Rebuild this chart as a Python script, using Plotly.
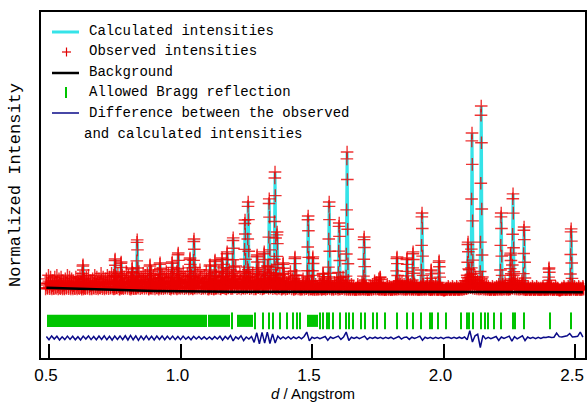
import numpy as np
import plotly.graph_objects as go

# ---------------- data ----------------
# resolved reflections: position d (Angstrom) and normalized peak height
peak_d = [0.629, 0.751, 0.774, 0.816, 0.835, 0.884, 0.922, 0.968, 0.991, 1.036,
          1.051, 1.112, 1.131, 1.158, 1.177, 1.200, 1.245, 1.257, 1.291, 1.318,
          1.337, 1.359, 1.367, 1.390, 1.435, 1.485, 1.503, 1.542, 1.565, 1.603,
          1.633, 1.698, 1.759, 1.823, 1.861, 1.884, 1.918, 1.953, 1.983, 2.093,
          2.108, 2.143, 2.219, 2.255, 2.264, 2.306, 2.401, 2.485]
peak_h = [0.136, 0.168, 0.152, 0.120, 0.272, 0.136, 0.147, 0.152, 0.201, 0.174,
          0.277, 0.136, 0.163, 0.174, 0.207, 0.283, 0.380, 0.478, 0.190, 0.207,
          0.495, 0.641, 0.315, 0.147, 0.179, 0.402, 0.180, 0.090, 0.478, 0.364,
          0.750, 0.288, 0.070, 0.179, 0.174, 0.207, 0.418, 0.109, 0.158, 0.260,
          0.853, 1.000, 0.418, 0.200, 0.522, 0.342, 0.120, 0.332]

# weak, unresolved reflections ("grass") on a regular d grid
grass_start = 0.49
grass_step = 0.008
grass_h = [
    0.06, 0.08, 0.07, 0.05, 0.07, 0.08, 0.06, 0.07, 0.05, 0.06, 0.08, 0.07, 0.06, 0.05, 0.07, 0.06,
    0.07, 0.09, 0.06, 0.07, 0.08, 0.05, 0.06, 0.08, 0.07, 0.06, 0.09, 0.07, 0.06, 0.08, 0.07, 0.09,
    0.08, 0.07, 0.09, 0.06, 0.08, 0.07, 0.10, 0.08, 0.06, 0.09, 0.07, 0.08, 0.10, 0.07, 0.09, 0.08,
    0.09, 0.07, 0.10, 0.08, 0.06, 0.09, 0.11, 0.08, 0.07, 0.10, 0.09, 0.07, 0.11, 0.08, 0.10, 0.09,
    0.08, 0.10, 0.07, 0.09, 0.12, 0.08, 0.06, 0.10, 0.09, 0.11, 0.07, 0.08, 0.10, 0.06, 0.09, 0.07,
    0.05, 0.08, 0.10, 0.07, 0.12, 0.09, 0.06, 0.11, 0.08, 0.10, 0.13, 0.07, 0.09, 0.06, 0.10, 0.08,
    0.11, 0.07, 0.09, 0.05, 0.10, 0.12, 0.08, 0.06, 0.10, 0.13, 0.08, 0.11, 0.07, 0.09, 0.06, 0.08,
    0.05, 0.09, 0.04, 0.07, 0.10, 0.06, 0.03, 0.08, 0.05, 0.02, 0.06, 0.04, 0.07, 0.03, 0.05, 0.02,
    0.03, 0.02, 0.05, 0.04, 0.06, 0.03, 0.07, 0.05, 0.02, 0.04, 0.06, 0.03, 0.05, 0.07, 0.04, 0.03,
    0.02, 0.03, 0.02, 0.01, 0.03, 0.02, 0.04, 0.03, 0.02, 0.01, 0.02, 0.03, 0.05, 0.04, 0.06, 0.03,
    0.02, 0.01, 0.03, 0.02, 0.01, 0.02, 0.04, 0.03, 0.05, 0.04, 0.03, 0.02, 0.04, 0.03, 0.02, 0.03,
    0.02, 0.01, 0.02, 0.03, 0.02, 0.04, 0.02, 0.01, 0.02, 0.03, 0.01, 0.02, 0.01, 0.00, 0.01, 0.02,
    0.01, 0.02, 0.01, 0.02, 0.01, 0.02, 0.03, 0.05, 0.08, 0.11, 0.12, 0.09, 0.07, 0.05, 0.04, 0.06,
    0.04, 0.03, 0.02, 0.01, 0.02, 0.01, 0.02, 0.03, 0.02, 0.03, 0.04, 0.02, 0.03, 0.06, 0.08, 0.05,
    0.04, 0.03, 0.05, 0.02, 0.01, 0.02, 0.01, 0.02, 0.01, 0.02, 0.01, 0.01, 0.02, 0.01, 0.02, 0.03,
    0.02, 0.01, 0.02, 0.01, 0.00, 0.01, 0.02, 0.01, 0.02, 0.01, 0.03, 0.02, 0.01, 0.02, 0.01, 0.02,
]

# observed points sampled across each reflection: d offsets and fraction of height
stack_dx = [-0.0045, -0.0034, -0.0023, -0.0012, -0.0004, 0.0004, 0.0014, 0.0025, 0.0036, 0.0048]
stack_f = [0.03, 0.10, 0.26, 0.58, 0.95, 1.00, 0.80, 0.44, 0.19, 0.07]
grass_dx = [-0.003, -0.0015, 0.0, 0.0015, 0.003]
grass_f = [0.10, 0.45, 1.00, 0.60, 0.20]

# refined background
bg_d = [0.49, 0.60, 0.75, 0.90, 1.20, 1.60, 2.00, 2.53]
bg_i = [0.012, 0.008, 0.000, -0.006, -0.010, -0.011, -0.012, -0.012]

# allowed Bragg reflections: dense bands (start, end) and single positions
bragg_bands = [(0.4924, 1.1008), (1.1046, 1.1882), (1.2148, 1.2757), (1.4810, 1.5228)]
bragg_d = [1.1958, 1.2833, 1.3137, 1.3365, 1.3517, 1.3783, 1.4049, 1.4278, 1.4430,
           1.4544, 1.5304, 1.5418, 1.5570, 1.5646, 1.5798, 1.6065, 1.6293, 1.6407,
           1.6559, 1.6863, 1.7015, 1.7319, 1.7471, 1.7776, 1.8232, 1.8612, 1.8840,
           1.9144, 1.9487, 1.9563, 1.9791, 2.0095, 2.0665, 2.0894, 2.0970, 2.1122,
           2.1426, 2.1578, 2.1692, 2.1920, 2.2186, 2.2643, 2.2719, 2.3061, 2.4049,
           2.4848]

# difference curve (observed - calculated) on a regular d grid
diff_start = 0.49
diff_step = 0.01
diff_r = [
    0.008, -0.010, 0.011, -0.006, 0.009, -0.011, 0.006, -0.009, 0.010, -0.008,
    0.009, -0.010, 0.007, -0.011, 0.010, -0.006, 0.011, -0.009, 0.008, -0.010,
    0.010, -0.008, 0.012, -0.010, 0.009, -0.012, 0.010, -0.008, 0.011, -0.009,
    0.012, -0.011, 0.014, -0.010, 0.011, -0.013, 0.010, -0.009, 0.012, -0.010,
    0.009, -0.011, 0.010, -0.008, 0.011, -0.010, 0.009, -0.008, 0.010, -0.009,
    0.008, -0.009, 0.010, -0.007, 0.006, -0.010, 0.009, -0.006, 0.008, -0.007,
    0.006, -0.007, 0.005, -0.008, 0.007, -0.006, 0.009, -0.012, 0.008, -0.006,
    0.014, -0.016, 0.006, -0.005, 0.012, -0.014, 0.005, -0.006, 0.008, -0.024,
    0.028, -0.032, 0.030, -0.028, 0.032, -0.030, 0.022, -0.028, 0.010, -0.006,
    0.006, -0.005, 0.007, -0.006, 0.005, -0.004, 0.006, -0.005, 0.008, 0.032,
    -0.016, 0.004, -0.003, 0.003, -0.004, 0.003, 0.008, -0.012, 0.005, -0.003,
    0.004, 0.010, -0.008, 0.005, 0.032, -0.014, 0.004, -0.003, 0.004, -0.004,
    0.003, 0.010, -0.008, 0.003, -0.003, 0.004, -0.003, 0.003, -0.004, 0.003,
    -0.003, 0.004, -0.005, 0.003, 0.008, -0.006, 0.003, 0.005, -0.008, 0.004,
    -0.003, 0.003, 0.010, -0.012, 0.004, -0.003, 0.003, -0.004, 0.003, -0.003,
    0.003, -0.004, 0.003, 0.004, -0.003, 0.003, -0.003, 0.004, -0.003, 0.005,
    -0.010, 0.040, -0.022, 0.012, 0.020, -0.052, 0.014, -0.005, 0.003, -0.004,
    0.004, 0.008, -0.014, 0.005, -0.003, 0.004, 0.010, -0.017, 0.007, -0.005,
    0.004, 0.012, -0.014, 0.005, -0.003, 0.003, -0.004, 0.003, -0.003, 0.004,
    0.003, 0.007, 0.003, 0.004, 0.026, 0.007, 0.005, 0.007, 0.012, 0.024,
    0.005, 0.007, 0.009, 0.032, 0.005,
]

x_ticks = [0.5, 1.0, 1.5, 2.0, 2.5]
x_ticktext = ["0.5", "1.0", "1.5", "2.0", "2.5"]

legend_labels = ["Calculated intensities", "Observed intensities", "Background",
                 "Allowed Bragg reflection", "Difference between the observed",
                 "and calculated intensities"]

# ---------------- styling / layout constants ----------------
W, H = 587, 403
L, R, T, B = 41, 585, 12, 358          # plot-area pixel box
X_RANGE = [0.4696, 2.538]
Y_RANGE = [-0.370, 1.511]
BRAGG_Y = -0.168
BRAGG_HALF = 0.033
DIFF_OFFSET = -0.261
SANS = "Liberation Sans, Arial, sans-serif"
MONO = "Liberation Mono, DejaVu Sans Mono, monospace"
CYAN = "#35e3e8"
RED = "rgba(235,0,0,0.8)"
GREEN = "#00c400"
NAVY = "#0a0a88"

# ---------------- build traces ----------------
obs_d, obs_i = [], []
for i, h in enumerate(grass_h):
    d0 = grass_start + i * grass_step
    for dx, f in zip(grass_dx, grass_f):
        obs_d.append(d0 + dx)
        obs_i.append(h * f)
calc_d, calc_i = [], []
for d0, h in zip(peak_d, peak_h):
    for dx, f in zip(stack_dx, stack_f):
        obs_d.append(d0 + dx)
        obs_i.append(h * f)
        calc_d.append(d0 + dx)
        calc_i.append(h * f)
    calc_d.append(None)
    calc_i.append(None)

diff_d = [diff_start + k * diff_step for k in range(len(diff_r))]
diff_i = [DIFF_OFFSET + r for r in diff_r]

fig = go.Figure()
fig.add_trace(go.Scatter(x=calc_d, y=calc_i, mode="lines",
                         line=dict(color=CYAN, width=3), connectgaps=False,
                         showlegend=False, hoverinfo="skip"))
fig.add_trace(go.Scatter(x=obs_d, y=obs_i, mode="markers",
                         marker=dict(symbol="cross-thin", size=9, color=RED,
                                     line=dict(color=RED, width=1.4)),
                         showlegend=False, hoverinfo="skip"))
fig.add_trace(go.Scatter(x=bg_d, y=bg_i, mode="lines",
                         line=dict(color="black", width=2.5),
                         showlegend=False, hoverinfo="skip"))
fig.add_trace(go.Scatter(x=bragg_d, y=[BRAGG_Y] * len(bragg_d), mode="markers",
                         marker=dict(symbol="line-ns", size=12, color=GREEN,
                                     line=dict(color=GREEN, width=2)),
                         showlegend=False, hoverinfo="skip"))
fig.add_trace(go.Scatter(x=diff_d, y=diff_i, mode="lines",
                         line=dict(color=NAVY, width=1.5),
                         showlegend=False, hoverinfo="skip"))

shapes = []
for a, b in bragg_bands:
    shapes.append(dict(type="rect", xref="x", yref="y", x0=a, x1=b,
                       y0=BRAGG_Y - BRAGG_HALF, y1=BRAGG_Y + BRAGG_HALF,
                       fillcolor=GREEN, line=dict(width=0), layer="above"))


def px(x):
    return (x - L) / (R - L)


def py(y):
    return (B - y) / (B - T)


def hline(x0, x1, y, color, width):
    return dict(type="line", xref="paper", yref="paper", x0=px(x0), x1=px(x1),
                y0=py(y), y1=py(y), line=dict(color=color, width=width))


def vline(x, y0, y1, color, width):
    return dict(type="line", xref="paper", yref="paper", x0=px(x), x1=px(x),
                y0=py(y0), y1=py(y1), line=dict(color=color, width=width))


# legend symbols
shapes.append(hline(52, 79, 32, CYAN, 3))
shapes.append(hline(62, 71, 52, "#e00000", 1.2))
shapes.append(vline(66.5, 47.5, 56.5, "#e00000", 1.2))
shapes.append(hline(52, 79, 73, "black", 2.5))
shapes.append(vline(66, 87, 98, GREEN, 2))
shapes.append(hline(52, 79, 113, NAVY, 1.5))

annotations = []
legend_pos = [(88, 31), (88, 51), (88, 72), (88, 92), (88, 113), (83, 134)]
for text, (x, y) in zip(legend_labels, legend_pos):
    annotations.append(dict(text=text, x=px(x), y=py(y), xref="paper", yref="paper",
                            xanchor="left", yanchor="middle", showarrow=False,
                            borderpad=0,
                            font=dict(family=MONO, size=14, color="black")))

fig.update_layout(
    width=W, height=H,
    margin=dict(l=L, r=W - R, t=T, b=H - B, pad=0, autoexpand=False),
    paper_bgcolor="white", plot_bgcolor="white",
    shapes=shapes, annotations=annotations,
    showlegend=False,
    xaxis=dict(range=X_RANGE, tickvals=x_ticks, ticktext=x_ticktext,
               ticks="inside", ticklen=14, tickwidth=1.5, tickcolor="black",
               showline=True, linecolor="black", linewidth=2, mirror=True,
               showgrid=False, zeroline=False, ticklabelstandoff=1,
               ticklabelshift=-3, ticklabeloverflow="allow",
               automargin=False,
               tickfont=dict(family=SANS, size=17, color="black"),
               title=dict(text="<i>d</i> / Angstrom", standoff=2,
                          font=dict(family=SANS, size=15, color="black"))),
    yaxis=dict(range=Y_RANGE, showticklabels=False, ticks="",
               showline=True, linecolor="black", linewidth=2, mirror=True,
               showgrid=False, zeroline=False, automargin=False,
               title=dict(text="Normalized Intensity", standoff=14,
                          font=dict(family=MONO, size=17, color="black"))),
)

fig.write_html("out.html", config={"displayModeBar": False},
               post_script="document.body.style.margin='0';document.body.style.padding='0';")
